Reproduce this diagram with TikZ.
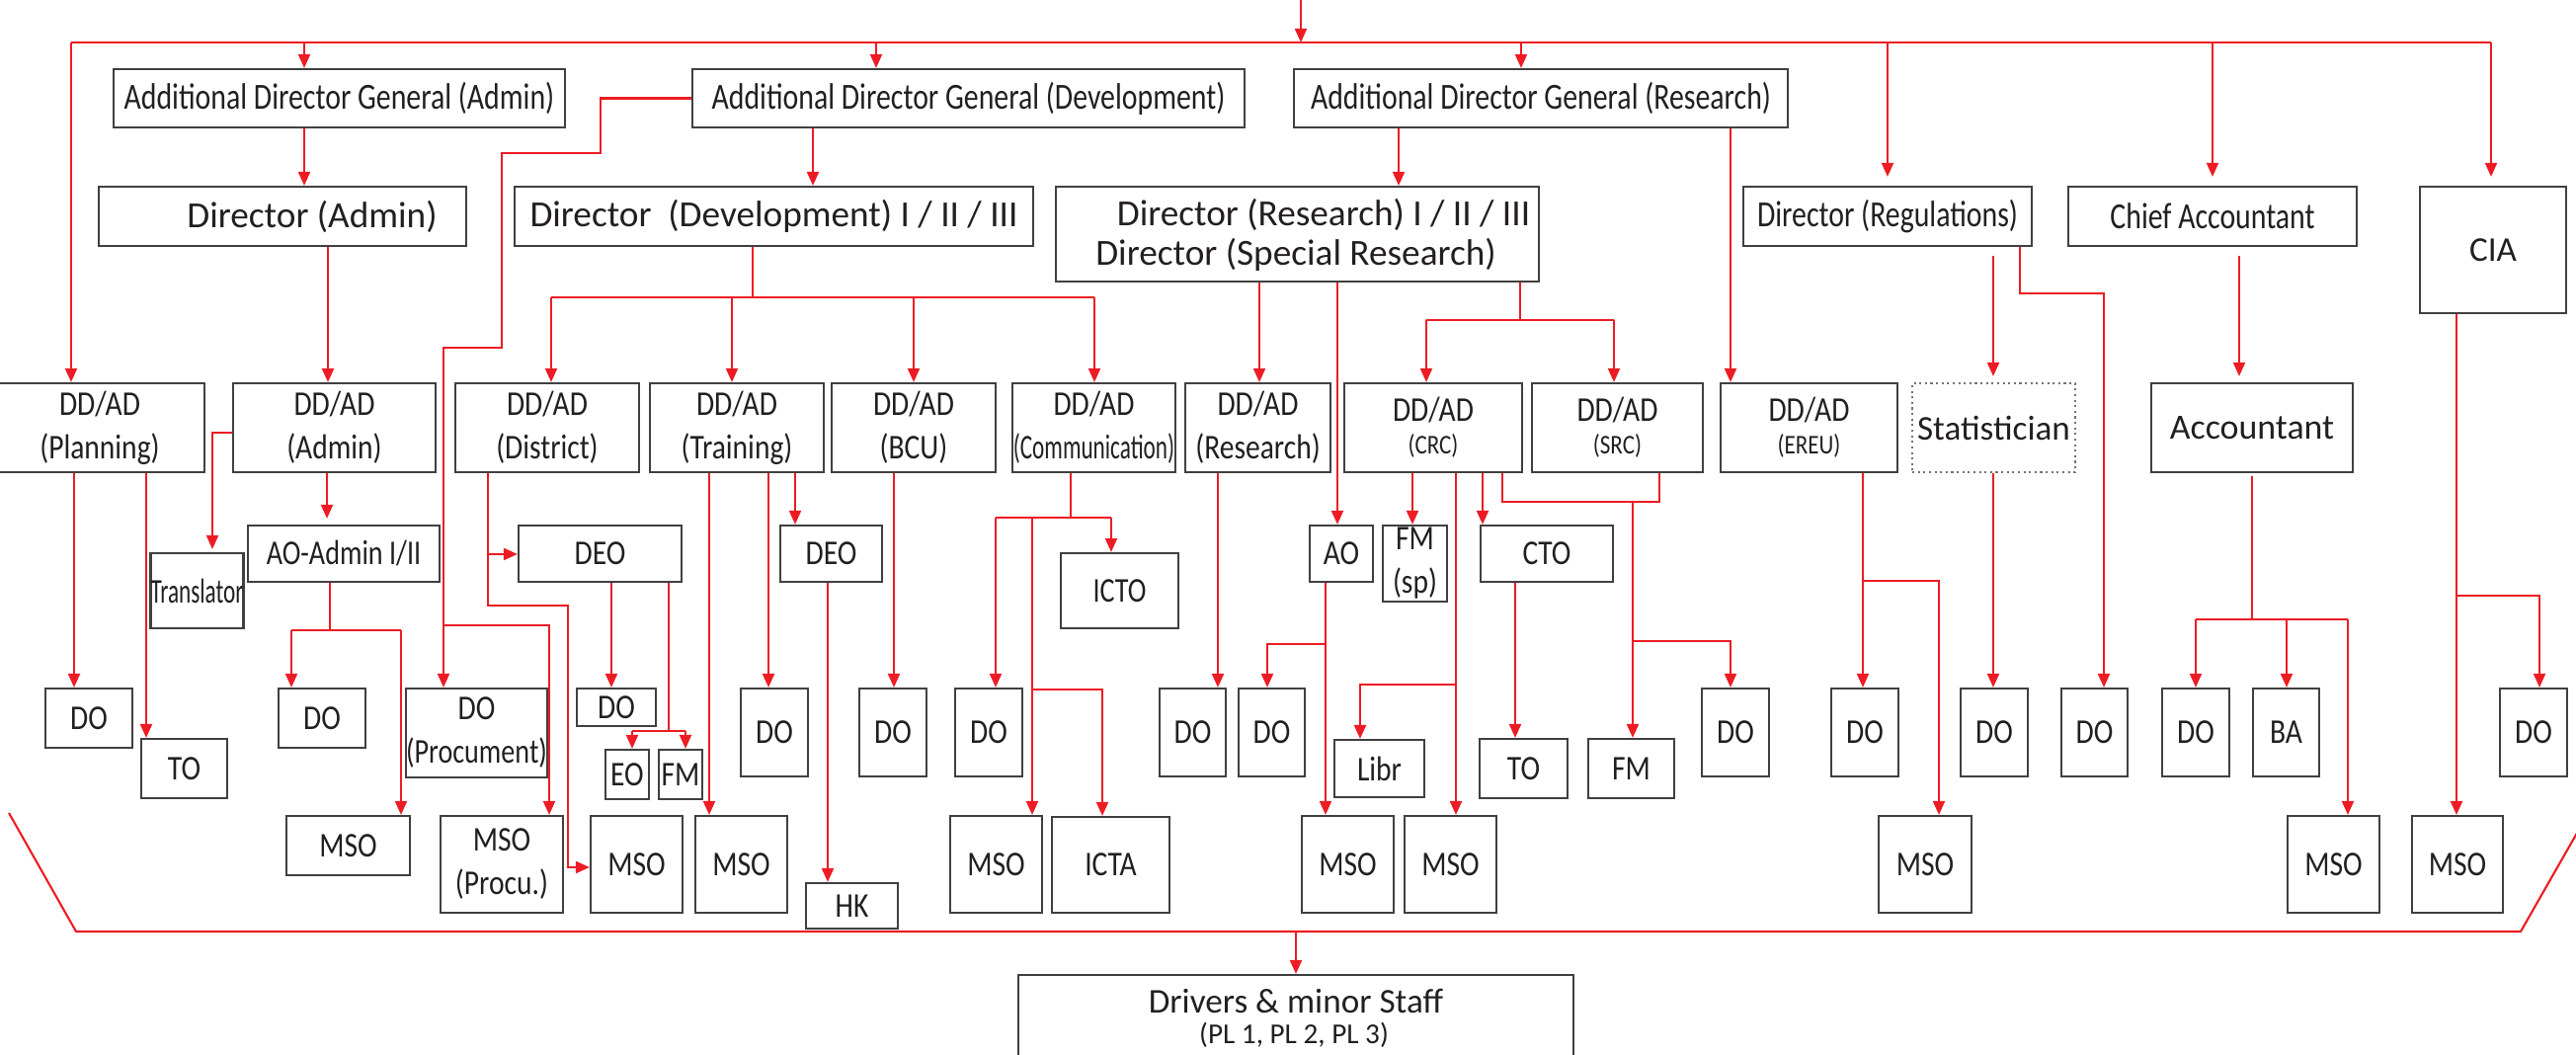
\documentclass[tikz,border=0pt]{standalone}
\usepackage{fontspec}
\setmainfont{Carlito}
\newfontfamily\cA{Carlito}[FakeStretch=0.8]
\newfontfamily\cB{Carlito}[FakeStretch=0.84]
\newfontfamily\cC{Carlito}[FakeStretch=0.66]
\usetikzlibrary{arrows.meta}
\definecolor{rd}{RGB}{237,28,36}
\definecolor{bxc}{RGB}{64,64,64}
\definecolor{tx}{RGB}{35,31,32}
\newcommand\bigf{\fontsize{10.6pt}{13pt}\selectfont}
\newcommand\midf{\fontsize{10pt}{12.5pt}\selectfont}
\newcommand\smlf{\fontsize{7.8pt}{10pt}\selectfont}
\newcommand\Bx[7][]{\node[bx,minimum width={(#5-#3)*0.01cm},minimum height={(#6-#4)*0.01cm},#1] (#2) at ({(#3+#5)/2},{(#4+#6)/2}) {#7};}
\tikzset{
  bx/.style={draw=bxc, line width=0.6pt, inner sep=0pt, align=center, text=tx, font=\cB\midf},
  lbl/.style={inner sep=0pt, text=tx},
  ln/.style={draw=rd, line width=0.6pt},
  ar/.style={ln, -{Triangle[length=0.14cm,width=0.12cm]}},
}
\begin{document}
\begin{tikzpicture}[x=0.01cm,y=-0.01cm]
\useasboundingbox (0,0) rectangle (2608,1068);
\clip (0,0) rectangle (2608,1068);
% ---------- row 1
\Bx[font=\cA\bigf]{adga}{115}{70}{572}{129}{Additional Director General (Admin)}
\Bx[font=\cA\bigf]{adgd}{701}{70}{1260}{129}{Additional Director General (Development)}
\Bx[font=\cA\bigf]{adgr}{1310}{70}{1810}{129}{Additional Director General (Research)}
% ---------- row 2
\Bx{dira}{100}{189}{472}{249}{}
\node[lbl,font=\bigf] (diratx) at (316,219) {Director (Admin)};
\Bx[font=\bigf]{dird}{521}{189}{1046}{249}{Director~ (Development) I / II / III}
\Bx{dirr}{1069}{189}{1558}{285}{}
\node[lbl,font=\bigf] (dirrtxa) at (1340,217) {Director (Research) I / II / III};
\node[lbl,font=\bigf] (dirrtxb) at (1312,258) {Director (Special Research)};
\Bx[font=\cA\bigf]{dreg}{1765}{189}{2057}{249}{Director (Regulations)}
\Bx[font=\cA\bigf]{chacc}{2094}{189}{2386}{249}{Chief Accountant}
\Bx[font=\midf]{cia}{2450}{189}{2598}{317}{CIA}
% ---------- row 3
\Bx{ddplan}{-5}{388}{207}{478}{DD/AD\\(Planning)}
\Bx{ddadm}{236}{388}{441}{478}{DD/AD\\(Admin)}
\Bx{dddis}{461}{388}{647}{478}{DD/AD\\(District)}
\Bx{ddtrn}{658}{388}{834}{478}{DD/AD\\(Training)}
\Bx{ddbcu}{842}{388}{1008}{478}{DD/AD\\(BCU)}
\Bx{ddcom}{1025}{388}{1190}{478}{DD/AD\\{\cC (Communication)}}
\Bx{ddres}{1200}{388}{1347}{478}{DD/AD\\(Research)}
\Bx{ddcrc}{1361}{388}{1541}{478}{DD/AD\\[-3pt]{\smlf (CRC)}}
\Bx{ddsrc}{1551}{388}{1724}{478}{DD/AD\\[-3pt]{\smlf (SRC)}}
\Bx{ddereu}{1742}{388}{1921}{478}{DD/AD\\[-3pt]{\smlf (EREU)}}
\Bx[draw=black!55,densely dotted,font=\midf]{stat}{1936}{388}{2101}{478}{Statistician}
\Bx[font=\fontsize{10.2pt}{12pt}\selectfont]{acct}{2178}{388}{2382}{478}{Accountant}
% ---------- row 4
\Bx[font=\cC\midf]{trans}{156}{560}{243}{636}{Translator}
\Bx[font=\cA\midf]{aoadm}{251}{532}{445}{589}{AO-Admin I/II}
\Bx{deod}{525}{532}{690}{589}{DEO}
\Bx{deot}{790}{532}{893}{589}{DEO}
\Bx[font=\cA\midf]{icto}{1074}{560}{1193}{636}{ICTO}
\Bx{ao}{1326}{532}{1390}{589}{AO}
\Bx{fmsp}{1400}{532}{1465}{609}{FM\\(sp)}
\Bx{cto}{1499}{532}{1633}{589}{CTO}
% ---------- row 5
\Bx{doplan}{46}{697}{134}{757}{DO}
\Bx{toa}{143}{748}{230}{808}{TO}
\Bx{doadm}{282}{697}{370}{757}{DO}
\Bx{doproc}{416}{697}{549}{787}{DO\\{\cA (Procument)}}
\Bx{dodis}{584}{697}{664}{735}{DO}
\Bx{eo}{613}{759}{657}{809}{EO}
\Bx{fma}{667}{759}{711}{809}{FM}
\Bx{dotrn}{750}{697}{818}{786}{DO}
\Bx{dobcu}{870}{697}{938}{786}{DO}
\Bx{docom}{967}{697}{1035}{786}{DO}
\Bx{dores}{1174}{697}{1241}{786}{DO}
\Bx{doao}{1254}{697}{1321}{786}{DO}
\Bx{libr}{1351}{749}{1442}{807}{Libr}
\Bx{tob}{1498}{748}{1587}{808}{TO}
\Bx{fmb}{1608}{748}{1695}{808}{FM}
\Bx{dosrc}{1723}{697}{1791}{786}{DO}
\Bx{doereu}{1854}{697}{1922}{786}{DO}
\Bx{dostat}{1985}{697}{2053}{786}{DO}
\Bx{doreg}{2087}{697}{2154}{786}{DO}
\Bx{doacc}{2189}{697}{2257}{786}{DO}
\Bx{ba}{2281}{697}{2348}{786}{BA}
\Bx{docia}{2531}{697}{2599}{786}{DO}
% ---------- row 6
\Bx{msoadm}{290}{826}{415}{886}{MSO}
\Bx{msoproc}{446}{826}{570}{924}{MSO\\(Procu.)}
\Bx{msodis}{598}{826}{691}{924}{MSO}
\Bx{msotrn}{704}{826}{797}{924}{MSO}
\Bx{hk}{816}{894}{909}{940}{HK}
\Bx{msocom}{962}{826}{1055}{924}{MSO}
\Bx{icta}{1065}{827}{1184}{924}{ICTA}
\Bx{msoao}{1318}{826}{1411}{924}{MSO}
\Bx{msocrc}{1422}{826}{1515}{924}{MSO}
\Bx{msoereu}{1902}{826}{1996}{924}{MSO}
\Bx{msoacc}{2316}{826}{2409}{924}{MSO}
\Bx{msocia}{2442}{826}{2534}{924}{MSO}
% ---------- drivers
\Bx{drv}{1031}{987}{1593}{1110}{}
\node[lbl,font=\midf] (drvtxa) at (1312,1013) {Drivers \& minor Staff};
\node[lbl,font=\fontsize{8.3pt}{10pt}\selectfont] (drvtxb) at (1310,1048) {(PL 1, PL 2, PL 3)};
% ================= connectors
\coordinate (topin) at (1317,0);
\draw[ar] (topin) -- (1317,43);
\draw[ln] (72,43) -- (2522,43);
\draw[ar] (72,43) -- (ddplan.north -| 72,0);
\draw[ar] (308,43) -- (adga.north -| 308,0);
\draw[ar] (887,43) -- (adgd.north -| 887,0);
\draw[ar] (1540,43) -- (adgr.north -| 1540,0);
\draw[ar,shorten >=0.09cm] (1911,43) -- (dreg.north -| 1911,0);
\draw[ar,shorten >=0.09cm] (2240,43) -- (chacc.north -| 2240,0);
\draw[ar,shorten >=0.09cm] (2522,43) -- (cia.north -| 2522,0);
% ADG level
\draw[ar] (adga.south -| 308,0) -- (dira.north -| 308,0);
\draw[ar] (adgd.south -| 823,0) -- (dird.north -| 823,0);
\draw[ar] (adgr.south -| 1416,0) -- (dirr.north -| 1416,0);
\draw[ar] (adgr.south -| 1752,0) -- (ddereu.north -| 1752,0);
\draw[ar] (adgd.west) -- (608,99.5) -- (608,155) -- (508,155) -- (508,352) -- (449,352) -- (doproc.north -| 449,0);
\draw[ar] (449,633) -| (msoproc.north -| 556,0);
% Director level
\draw[ar] (dira.south -| 332,0) -- (ddadm.north -| 332,0);
\draw[ln] (dird.south -| 762,0) -- (762,301);
\draw[ln] (558,301) -- (1108,301);
\draw[ar] (558,301) -- (dddis.north -| 558,0);
\draw[ar] (741,301) -- (ddtrn.north -| 741,0);
\draw[ar] (925,301) -- (ddbcu.north -| 925,0);
\draw[ar] (1108,301) -- (ddcom.north -| 1108,0);
\draw[ar] (dirr.south -| 1275,0) -- (ddres.north -| 1275,0);
\draw[ar] (dirr.south -| 1354,0) -- (ao.north -| 1354,0);
\draw[ln] (dirr.south -| 1539,0) -- (1539,324);
\draw[ln] (1444,324) -- (1634,324);
\draw[ar] (1444,324) -- (ddcrc.north -| 1444,0);
\draw[ar] (1634,324) -- (ddsrc.north -| 1634,0);
\draw[ar,shorten >=0.06cm] (2018,259) -- (stat.north -| 2018,0);
\draw[ar] (dreg.south -| 2045,0) -- (2045,297) -- (2130,297) -- (doreg.north -| 2130,0);
\draw[ar,shorten >=0.06cm] (2267,259) -- (acct.north -| 2267,0);
\draw[ar] (cia.south -| 2487,0) -- (msocia.north -| 2487,0);
\draw[ar] (2487,603) -| (docia.north -| 2571,0);
% Planning / Admin
\draw[ar] (ddplan.south -| 75,0) -- (doplan.north -| 75,0);
\draw[ar] (ddplan.south -| 148,0) -- (toa.north -| 148,0);
\draw[ar,shorten >=0.03cm] (ddadm.west |- 0,438) -| (trans.north -| 215,0);
\draw[ar,shorten >=0.06cm] (ddadm.south -| 331,0) -- (aoadm.north -| 331,0);
\draw[ln] (aoadm.south -| 334,0) -- (334,638);
\draw[ln] (295,638) -- (406,638);
\draw[ar] (295,638) -- (doadm.north -| 295,0);
\draw[ar] (406,638) -- (msoadm.north -| 406,0);
% District
\draw[ar] (dddis.south -| 494,0) -- (494,613) -- (575,613) -- (575,878) -- (msodis.west |- 0,878);
\draw[ar] (494,561) -- (deod.west |- 0,561);
\draw[ar] (deod.south -| 619,0) -- (dodis.north -| 619,0);
\draw[ln] (deod.south -| 677,0) -- (677,740);
\draw[ln] (640,740) -- (694,740);
\draw[ar] (640,740) -- (eo.north -| 640,0);
\draw[ar] (694,740) -- (fma.north -| 694,0);
% Training / BCU
\draw[ar] (ddtrn.south -| 718,0) -- (msotrn.north -| 718,0);
\draw[ar] (ddtrn.south -| 778,0) -- (dotrn.north -| 778,0);
\draw[ar] (ddtrn.south -| 805,0) -- (deot.north -| 805,0);
\draw[ar] (deot.south -| 838,0) -- (hk.north -| 838,0);
\draw[ar] (ddbcu.south -| 905,0) -- (dobcu.north -| 905,0);
% Communication
\draw[ln] (ddcom.south -| 1084,0) -- (1084,524);
\draw[ln] (1008,524) -- (1125,524);
\draw[ar] (1125,524) -- (icto.north -| 1125,0);
\draw[ar] (1008,524) -- (docom.north -| 1008,0);
\draw[ar] (1045,524) -- (msocom.north -| 1045,0);
\draw[ar] (1045,698) -| (icta.north -| 1116,0);
% Research
\draw[ar] (ddres.south -| 1233,0) -- (dores.north -| 1233,0);
\draw[ar] (ao.south -| 1342,0) -- (msoao.north -| 1342,0);
\draw[ar] (1342,652) -| (doao.north -| 1283,0);
% CRC / SRC
\draw[ar] (ddcrc.south -| 1430,0) -- (fmsp.north -| 1430,0);
\draw[ar] (ddcrc.south -| 1474,0) -- (msocrc.north -| 1474,0);
\draw[ar] (1474,693) -| (libr.north -| 1377,0);
\draw[ar] (ddcrc.south -| 1501,0) -- (cto.north -| 1501,0);
\draw[ar] (cto.south -| 1534,0) -- (tob.north -| 1534,0);
\draw[ln] (ddcrc.south -| 1521,0) -- (1521,508) -- (1680,508) -- (ddsrc.south -| 1680,0);
\draw[ar] (1653,508) -- (fmb.north -| 1653,0);
\draw[ar] (1653,649) -| (dosrc.north -| 1752,0);
% EREU / Statistician / Accountant
\draw[ar] (ddereu.south -| 1886,0) -- (doereu.north -| 1886,0);
\draw[ar] (1886,588) -| (msoereu.north -| 1963,0);
\draw[ar] (stat.south -| 2018,0) -- (dostat.north -| 2018,0);
\draw[ln] (2280,482) -- (2280,627);
\draw[ln] (2223,627) -- (2377,627);
\draw[ar] (2223,627) -- (doacc.north -| 2223,0);
\draw[ar] (2315,627) -- (ba.north -| 2315,0);
\draw[ar] (2377,627) -- (msoacc.north -| 2377,0);
% bottom bracket
\draw[ln] (9,823) -- (77,943) -- (2552,943) -- (2620,824);
\draw[ar] (1312,943) -- (drv.north -| 1312,0);
\end{tikzpicture}
\end{document}
